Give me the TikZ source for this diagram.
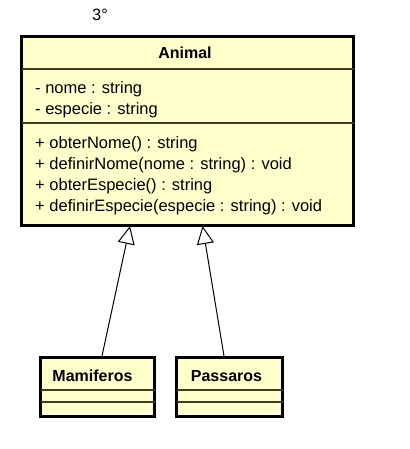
\documentclass[tikz,border=0pt]{standalone}
\usepackage{fontspec}
\setmainfont{Liberation Sans}
\usetikzlibrary{arrows.meta}
\definecolor{umlfill}{RGB}{255,255,204}
\definecolor{sepcol}{RGB}{60,60,40}
\tikzset{
  classbox/.style={draw=black, fill=umlfill, line width=3pt, rectangle, inner sep=0pt, outer sep=0pt, anchor=north west},
  sepline/.style={draw=sepcol, line width=1.2pt},
  member/.style={anchor=base west, inner sep=0pt, font=\fontsize{16.5}{21.2}\selectfont},
  ctitle/.style={anchor=base, inner sep=0pt, font=\fontsize{16}{20}\selectfont\bfseries},
  inherit/.style={line width=1pt, -{Triangle[fill=white, length=18pt, width=17pt, line width=1pt]}},
}
\begin{document}
\begin{tikzpicture}[x=1pt,y=-1pt]
\useasboundingbox (0,0) rectangle (409,449);
% Animal
\node[classbox, minimum width=332pt, minimum height=189pt] (animal) at (21.5,36.5) {};
\draw[sepline] (21.5,69) -- (353.5,69);
\draw[sepline] (21.5,123) -- (353.5,123);
\node[ctitle] (animalt) at (185,59) {Animal};
\node[member] (a1) at (35,93.5) {- nome : string};
\node[member] (a2) at (35,114.7) {- especie : string};
\node[member] (m1) at (35,148.3) {+ obterNome() : string};
\node[member] (m2) at (35,169.5) {+ definirNome(nome : string) : void};
\node[member] (m3) at (35,190.7) {+ obterEspecie() : string};
\node[member] (m4) at (35,211.9) {+ definirEspecie(especie : string) : void};
\node[anchor=base west, inner sep=0pt, font=\fontsize{16.4}{20}\selectfont] (label) at (92,21) {3°};
% Mamiferos
\node[classbox, minimum width=114pt, minimum height=59pt] (mam) at (40.5,357.5) {};
\draw[sepline] (40.5,390) -- (154.5,390);
\draw[sepline] (40.5,402) -- (154.5,402);
\node[ctitle] (mamt) at (92.5,381) {Mamiferos};
% Passaros
\node[classbox, minimum width=106pt, minimum height=59pt] (pas) at (176.5,357.5) {};
\draw[sepline] (176.5,390) -- (282.5,390);
\draw[sepline] (176.5,402) -- (282.5,402);
\node[ctitle] (past) at (226.5,381) {Passaros};
% connectors
\coordinate (mamtop) at (102,356);
\coordinate (pastop) at (224,356);
\coordinate (tip1) at (130,226);
\coordinate (tip2) at (202.5,226);
\draw[inherit] (mamtop) -- (tip1);
\draw[inherit] (pastop) -- (tip2);
\end{tikzpicture}
\end{document}
